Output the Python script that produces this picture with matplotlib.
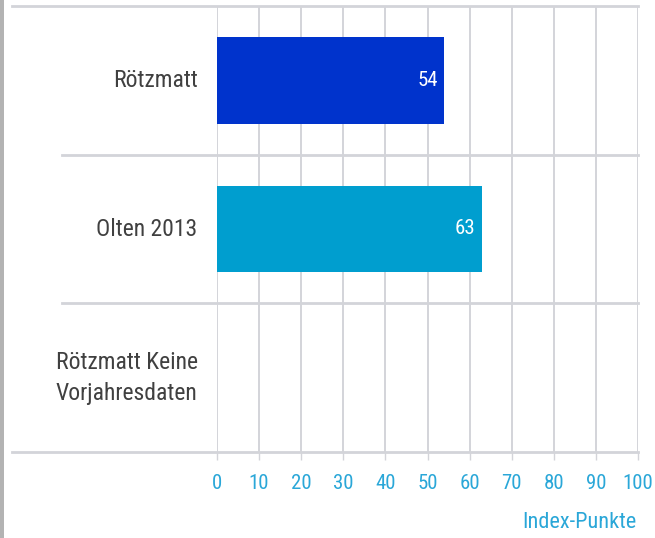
import matplotlib
matplotlib.use("Agg")
import matplotlib.pyplot as plt

# data
categories = ["Rötzmatt", "Olten 2013", "Rötzmatt Keine\nVorjahresdaten"]
values = [54, 63, None]
bar_colors = ["#0033cc", "#009ecf", "#009ecf"]
x_ticks = [0, 10, 20, 30, 40, 50, 60, 70, 80, 90, 100]

plt.rcParams["font.family"] = ["Roboto Condensed", "Archivo Narrow", "Liberation Sans", "DejaVu Sans"]

W, H = 655, 538
fig = plt.figure(figsize=(W / 100, H / 100), dpi=100)
ax = fig.add_axes([217 / W, 1 - 452 / H, (638 - 217) / W, (452 - 6) / H])

grid_c = "#d3d4d9"
for t in x_ticks:
    ax.axvline(t, color=grid_c, lw=1.4, zorder=1)

for i, v in enumerate(values):
    if v is None:
        continue
    ax.barh(i, v, height=0.585, color=bar_colors[i], zorder=2)
    ax.text(v - 1.6, i, str(v), color="white", ha="right", va="center",
            fontsize=15, zorder=3)

ax.set_xlim(0, 100)
ax.set_ylim(2.5, -0.5)

# band separators extending left of the axes
ax.axhline(-0.5, xmin=-0.487, xmax=1, color=grid_c, lw=2, clip_on=False, zorder=1)
ax.axhline(2.5, xmin=-0.487, xmax=1, color=grid_c, lw=2, clip_on=False, zorder=1)
for y in [0.5, 1.5]:
    ax.axhline(y, xmin=-0.368, xmax=1, color=grid_c, lw=2, clip_on=False, zorder=1)

for s in ax.spines.values():
    s.set_visible(False)

ax.set_xticks(x_ticks)
ax.tick_params(axis="x", colors="#d3d4d9", length=6, width=1, pad=10,
               labelcolor="#2aa7d8", labelsize=15)
ax.set_yticks(range(len(categories)))
ax.set_yticklabels(categories, fontsize=17, color="#404040", linespacing=1.45)
ax.tick_params(axis="y", length=0, pad=14)
for lab in ax.get_yticklabels():
    lab.set_horizontalalignment("right")
    lab.set_multialignment("right")
    lab.set_verticalalignment("center")

fig.text(636 / W, 1 - 522 / H, "Index-Punkte", color="#2aa7d8", fontsize=16,
         ha="right", va="center")

# gray left border
fig.add_artist(plt.Rectangle((0, 0), 4 / W, 1, transform=fig.transFigure,
                             color="#b3b3b3", lw=0))

fig.savefig("out.png", dpi=100)
